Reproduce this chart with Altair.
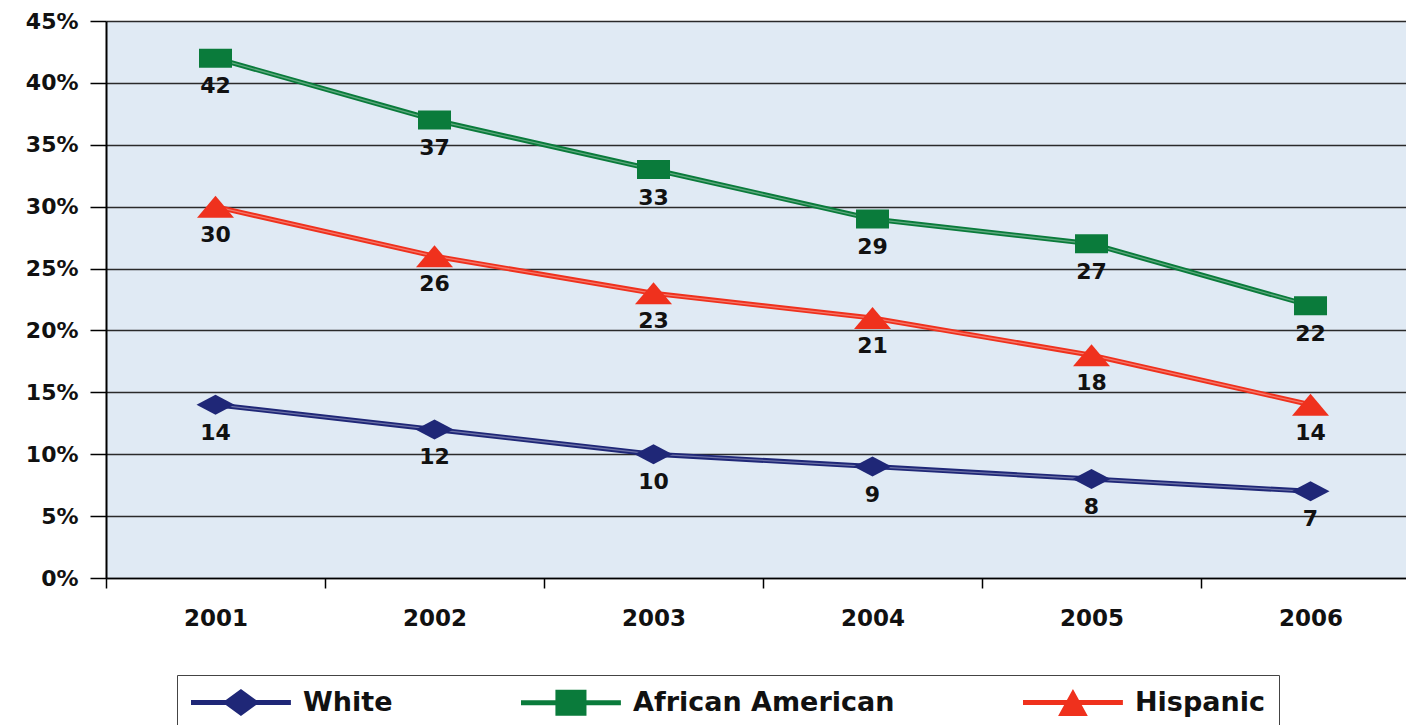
import altair as alt
import pandas as pd

# Share of each group by year (percent)
years = [2001, 2002, 2003, 2004, 2005, 2006]
series_names = ["White", "African American", "Hispanic"]
white = [14, 12, 10, 9, 8, 7]
african_american = [42, 37, 33, 29, 27, 22]
hispanic = [30, 26, 23, 21, 18, 14]
series_colors = ["#1F2777", "#0A7B3B", "#EF311D"]

y_tick_values = [0, 5, 10, 15, 20, 25, 30, 35, 40, 45]
# tick marks sit between years, labels sit on the years
x_boundaries = [2000.5, 2001.5, 2002.5, 2003.5, 2004.5, 2005.5]
x_axis_values = sorted(x_boundaries + years)

rows = []
for name, vals in zip(series_names, [white, african_american, hispanic]):
    for yr, v in zip(years, vals):
        rows.append({"year": yr, "value": v, "series": name})
df = pd.DataFrame(rows)

FONT = "DejaVu Sans"

# stretched marker outlines (unit box, scaled by sqrt(size)/2)
marker_paths = {
    "White": "M-1.9,0L0,-1L1.9,0L0,1Z",
    "African American": "M-1.65,-0.95H1.65V0.95H-1.65Z",
    "Hispanic": "M0,-1.1L1.85,1.1L-1.85,1.1Z",
}
# legend glyphs: line segment with the marker in the middle
legend_paths = [
    "M-1,-0.19H6.4V0.19H-1Z M1.33,0L2.7,-1L4.07,0L2.7,1Z",
    "M-1,-0.19H6.4V0.19H-1Z M1.55,-0.96H3.85V0.96H1.55Z",
    "M-1,-0.19H6.4V0.19H-1Z M2.7,-1L3.8,1L1.6,1Z",
]


def color_scale():
    return alt.Scale(domain=series_names, range=series_colors)


x_enc = alt.X(
    "year:Q",
    scale=alt.Scale(domain=[2000.5, 2006.436], nice=False, zero=False),
    axis=alt.Axis(
        values=x_axis_values,
        labelExpr="datum.value % 1 === 0 ? datum.value : ''",
        tickColor={"condition": {"test": "datum.value % 1 === 0", "value": "transparent"},
                   "value": "black"},
        tickSize=10,
        tickWidth=1.5,
        domainColor="black",
        domainWidth=1.5,
        labelFont=FONT,
        labelFontSize=23,
        labelFontWeight="bold",
        labelColor="#111111",
        labelPadding=19,
        labelOverlap=False,
        labelFlush=False,
        labelBound=False,
        grid=False,
        title=None,
    ),
)
y_enc = alt.Y(
    "value:Q",
    scale=alt.Scale(domain=[0, 45], nice=False),
    axis=alt.Axis(
        values=y_tick_values,
        labelExpr="datum.value + '%'",
        tickSize=16,
        tickWidth=1.5,
        tickColor="black",
        domainColor="black",
        domainWidth=2,
        labelFont=FONT,
        labelFontSize=22,
        labelFontWeight="bold",
        labelColor="#111111",
        labelPadding=12,
        grid=True,
        gridColor="#2a2a2a",
        gridWidth=1.5,
        title=None,
    ),
)

base = alt.Chart(df)

lines = base.mark_line(strokeWidth=5).encode(
    x=x_enc, y=y_enc, color=alt.Color("series:N", scale=color_scale(), legend=None)
)
line_shine = base.mark_line(strokeWidth=1.3, color="white", opacity=0.35).encode(
    x=x_enc, y=y_enc, detail="series:N"
)

point_layers = []
for name in series_names:
    point_layers.append(
        base.transform_filter(alt.datum.series == name)
        .mark_point(shape=marker_paths[name], size=400, filled=True, opacity=1)
        .encode(x=x_enc, y=y_enc,
                color=alt.Color("series:N", scale=color_scale(), legend=None))
    )

value_labels = base.mark_text(
    dy=28, font=FONT, fontSize=22, fontWeight="bold", color="#111111"
).encode(x=x_enc, y=y_enc, text="value:Q")

legend_props = dict(
    orient="none",
    legendX=71,
    legendY=654,
    direction="horizontal",
    columns=3,
    title=None,
    labelFont=FONT,
    labelFontSize=27,
    labelFontWeight="bold",
    labelColor="#111111",
    labelLimit=500,
    labelOffset=85,
    columnPadding=128,
    padding=14,
    strokeColor="#444444",
    fillColor="white",
    symbolSize=729,
    symbolStrokeWidth=0,
    symbolOpacity=1,
)

legend_layer = base.transform_filter("false").mark_point(
    filled=True, opacity=1, size=729
).encode(
    x=x_enc,
    y=y_enc,
    color=alt.Color("series:N", scale=color_scale(), legend=alt.Legend(**legend_props)),
    shape=alt.Shape("series:N",
                    scale=alt.Scale(domain=series_names, range=legend_paths),
                    legend=alt.Legend(**legend_props)),
)

chart = alt.layer(
    lines, line_shine, *point_layers, value_labels, legend_layer
).resolve_scale(
    color="independent", shape="independent"
).properties(
    width=1300,
    height=557,
    autosize=alt.AutoSizeParams(type="none"),
    padding={"left": 106, "top": 21, "right": 0, "bottom": 147},
    background="white",
).configure_view(
    stroke=None, fill="#E0EAF4"
)

chart.save("out.html", embed_options={"renderer": "svg", "actions": False})
